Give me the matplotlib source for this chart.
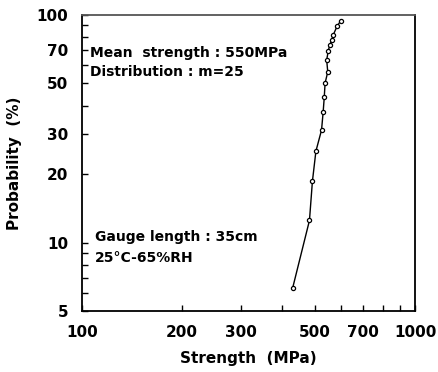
import matplotlib
matplotlib.use("Agg")
import matplotlib.pyplot as plt
from matplotlib.ticker import FixedLocator, NullFormatter

# ----------------------------
# Datos
# ----------------------------
strength = [429, 482, 492, 504, 524, 530, 534, 537, 547, 543, 549, 555, 562, 568, 584, 598]
probability = [6.3, 12.5, 18.6, 25.2, 31.2, 37.6, 43.6, 50.2, 56.2, 63.4, 69.7, 73.8, 77.6, 81.7, 89.5, 94.1]

x_major = [100, 200, 300, 500, 700, 1000]
x_minor = [400, 600, 800, 900]
y_major = [5, 10, 20, 30, 50, 70, 100]
y_minor = [6, 7, 8, 9, 40, 60, 80, 90]

# ----------------------------
# Gráfico
# ----------------------------
plt.rcParams["font.family"] = ["DejaVu Sans"]
plt.rcParams["font.weight"] = "bold"

fig = plt.figure(figsize=(4.38, 3.72), dpi=100)
ax = fig.add_axes([0.1872, 0.164, 0.7603, 0.7957])

ax.plot(strength, probability, color="black", lw=1.0, marker="o", ms=3.0,
        mfc="white", mec="black", mew=0.9)

ax.set_xscale("log")
ax.set_yscale("log")
ax.set_xlim(100, 1000)
ax.set_ylim(5, 100)

ax.xaxis.set_major_locator(FixedLocator(x_major))
ax.xaxis.set_minor_locator(FixedLocator(x_minor))
ax.yaxis.set_major_locator(FixedLocator(y_major))
ax.yaxis.set_minor_locator(FixedLocator(y_minor))
ax.set_xticklabels([str(v) for v in x_major])
ax.set_yticklabels([str(v) for v in y_major])
ax.xaxis.set_minor_formatter(NullFormatter())
ax.yaxis.set_minor_formatter(NullFormatter())

ax.tick_params(which="both", direction="in", top=False, right=False,
               length=4, width=1.0, pad=10, labelsize=11)

for side in ["left", "bottom", "right", "top"]:
    ax.spines[side].set_linewidth(1.3)
ax.spines["top"].set_color("#555555")

ax.set_xlabel("Strength  (MPa)", fontsize=11, fontweight="bold", labelpad=8)
ax.set_ylabel("Probability  (%)", fontsize=11, fontweight="bold", labelpad=10)

txt = dict(fontsize=10, fontweight="bold", transform=ax.transAxes, va="center", ha="left")
ax.text(0.024, 0.872, "Mean  strength : 550MPa", **txt)
ax.text(0.024, 0.807, "Distribution : m=25", **txt)
ax.text(0.04, 0.25, "Gauge length : 35cm", **txt)
ax.text(0.04, 0.18, "25°C-65%RH", **txt)

fig.savefig("out.png", dpi=100)
